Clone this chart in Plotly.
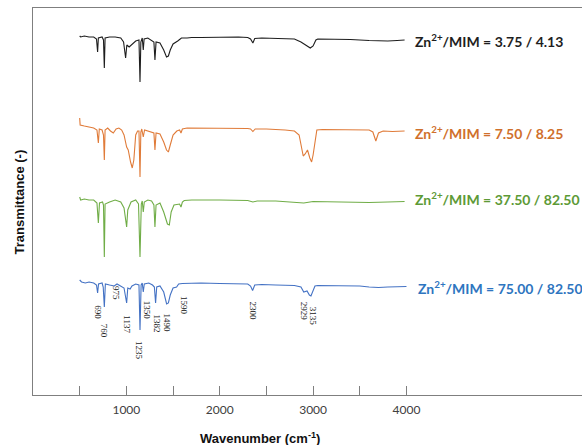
import plotly.graph_objects as go

# ---------------- data ----------------
w_black = [500, 510, 550, 600, 650, 680, 692, 700, 740, 755, 764, 772, 820, 880, 940, 970, 992, 1005, 1030, 1060,
           1100, 1135, 1146, 1155, 1170, 1181, 1190, 1230, 1270, 1295, 1306, 1318, 1360, 1400, 1430, 1450, 1470, 1500,
           1550, 1590, 1650, 1700, 1800, 2000, 2200, 2300, 2330, 2355, 2375, 2450, 2600, 2800, 2870, 2930, 2970, 3000,
           3030, 3050, 3200, 3400, 3600, 3700, 3800, 3900, 3980]
t_black = [101, 100, 101, 100, 100, 98, 85, 99, 100, 97, 69, 99, 100, 100, 99, 95, 79, 92, 90, 93,
           96, 97, 55, 95, 99, 87, 98, 99, 97, 95, 77, 95, 94, 87, 80, 81, 87, 93,
           96, 99, 99, 99.5, 99.5, 100, 100, 99.5, 98, 94, 98.5, 99, 98.5, 98, 95, 91, 89, 91,
           97, 98, 98, 97.5, 96.5, 96, 96, 96.5, 97]

w_orange = [500, 505, 550, 600, 650, 685, 700, 710, 740, 755, 764, 772, 800, 830, 860, 890, 920, 950, 975, 1003,
            1020, 1045, 1063, 1080, 1100, 1120, 1135, 1146, 1155, 1165, 1181, 1195, 1230, 1260, 1295, 1306, 1318,
            1360, 1400, 1430, 1450, 1470, 1500, 1540, 1570, 1585, 1600, 1650, 1800, 2000, 2200, 2300, 2330, 2355,
            2380, 2500, 2700, 2800, 2850, 2880, 2894, 2915, 2940, 2965, 2984, 3000, 3020, 3040, 3100, 3300, 3500,
            3600, 3640, 3672, 3700, 3750, 3850, 3980]
t_orange = [110, 103, 102, 101, 100, 98, 85, 99, 98, 93, 68, 98, 100, 97, 95, 99, 100, 98, 93, 81,
            78, 66, 60, 68, 93, 97, 97, 51, 96, 99, 91, 98, 97, 96, 95, 78, 95,
            94, 86, 78, 76, 83, 93, 97, 98, 95, 99, 100, 100, 100, 100, 99.5, 99, 96.5,
            99, 99, 98, 97, 93, 78, 72, 74, 78, 70, 66, 73, 88, 98, 98.5, 98, 98,
            98, 96, 87, 95, 97, 96.5, 97]

w_green = [500, 510, 550, 600, 650, 685, 700, 712, 745, 755, 764, 772, 820, 880, 940, 975, 1003, 1015, 1050, 1100,
           1130, 1146, 1160, 1170, 1181, 1192, 1230, 1270, 1295, 1306, 1318, 1360, 1400, 1440, 1460, 1480, 1510,
           1550, 1570, 1585, 1600, 1620, 1700, 2000, 2300, 2355, 2400, 2600, 2800, 2900, 3000, 3200, 3400, 3600,
           3800, 3980]
t_green = [103, 100, 101, 100, 100, 97, 77, 97, 98, 95, 43, 96, 98, 100, 98, 92, 73, 90, 98, 100,
           96, 43, 96, 99, 88, 98, 100, 99, 95, 73, 95, 97, 88, 76, 75, 88, 95,
           96, 96, 93, 98, 99.5, 100, 100, 99.5, 98, 99, 99, 97.5, 97, 98.5, 98, 98, 97.5,
           98, 98.5]

w_blue = [500, 520, 560, 600, 650, 680, 692, 702, 740, 752, 764, 775, 820, 870, 900, 940, 975, 1003, 1015, 1040,
          1060, 1100, 1135, 1146, 1158, 1170, 1181, 1192, 1240, 1280, 1300, 1313, 1325, 1360, 1400, 1431, 1450,
          1470, 1500, 1538, 1560, 1600, 1700, 1800, 2000, 2200, 2300, 2330, 2352, 2375, 2450, 2600, 2800, 2870,
          2900, 2935, 2960, 2977, 2995, 3020, 3050, 3300, 3500, 3600, 3700, 3800, 3900, 4000]
t_blue = [103, 101, 100, 101, 100, 98, 90, 99, 100, 96, 76, 99, 98, 97, 99, 97, 95, 80, 95, 94,
          97, 99, 98, 53, 98, 100, 91, 99, 100, 98, 96, 80, 96, 97, 91, 79, 80,
          88, 95, 96, 99, 99.5, 100, 100, 99.5, 99.5, 99, 97, 92.5, 98, 98.5, 98, 97.5, 96,
          91, 92, 88, 87, 91, 97, 97.5, 97.5, 97, 96, 95.5, 96, 96, 96.5]

series_names = ["Zn<sup>2+</sup>/MIM = 3.75 / 4.13", "Zn<sup>2+</sup>/MIM = 7.50 / 8.25",
                "Zn<sup>2+</sup>/MIM = 37.50 / 82.50", "Zn<sup>2+</sup>/MIM = 75.00 / 82.50"]
series_offsets = [258, 167, 95, 12]

peak_labels = ["690", "760", "975", "1137", "1235", "1350", "1382", "1490", "1590", "2300", "2929", "3135"]
peak_label_x = [693, 763, 889, 1003, 1135, 1224, 1324, 1431, 1617, 2352, 2905, 3001]
peak_label_y = [83, 64, 102, 71, 44, 85, 72, 72, 89, 84, 84, 79]

x_tickvals = [500, 1000, 1500, 2000, 2500, 3000, 3500, 4000]
x_ticktext = ["", "1000", "", "2000", "", "3000", "", "4000"]

# ---------------- styles ----------------
line_colors = ["#1e1e1e", "#e07b39", "#70ad47", "#4472c4"]
text_colors = ["#1e1e1e", "#d0702c", "#5d9a36", "#2e75c0"]
name_x = [4069, 4069, 4069, 4100]
name_y = [355, 263, 197, 108]

fig = go.Figure()
data = [(w_black, t_black), (w_orange, t_orange), (w_green, t_green), (w_blue, t_blue)]
for i, (w, t) in enumerate(data):
    fig.add_trace(go.Scatter(x=w, y=[v + series_offsets[i] for v in t], mode="lines",
                             line=dict(color=line_colors[i], width=1.1), showlegend=False,
                             hoverinfo="skip"))
    fig.add_annotation(x=name_x[i], y=name_y[i], xref="x", yref="y", text="<b>" + series_names[i] + "</b>",
                       showarrow=False, xanchor="left", yanchor="middle",
                       font=dict(family="Lato", size=14, color=text_colors[i]))

for lab, lx, ly in zip(peak_labels, peak_label_x, peak_label_y):
    fig.add_annotation(x=lx, y=ly, xref="x", yref="y", text=lab, showarrow=False, textangle=90,
                       xanchor="center", yanchor="middle",
                       font=dict(family="Liberation Serif", size=9, color="#222222"))

fig.add_annotation(x=0.413, y=-0.111, xref="paper", yref="paper",
                   text="<b>Wavenumber (cm<sup>-1</sup>)</b>", showarrow=False,
                   xanchor="center", yanchor="middle",
                   font=dict(family="Liberation Sans", size=13, color="#111111"))
fig.add_annotation(x=-0.0237, y=0.5, xref="paper", yref="paper",
                   text="<b>Transmittance (-)</b>", showarrow=False, textangle=-90,
                   xanchor="center", yanchor="middle",
                   font=dict(family="Liberation Sans", size=13, color="#111111"))

fig.update_xaxes(range=[0, 5880], tickmode="array", tickvals=x_tickvals, ticktext=x_ticktext,
                 ticks="inside", ticklen=9, tickcolor="#7f7f7f", tickwidth=1,
                 showline=True, linecolor="#7f7f7f", linewidth=1, mirror=True,
                 showgrid=False, zeroline=False, ticklabelstandoff=4,
                 tickfont=dict(family="Lato", size=12, color="#404040"))
fig.update_yaxes(range=[0, 387], showticklabels=False, ticks="", showline=True,
                 linecolor="#7f7f7f", linewidth=1, showgrid=False, zeroline=False)

fig.update_layout(width=582, height=445, margin=dict(l=33, r=0, t=8, b=50),
                  plot_bgcolor="white", paper_bgcolor="white")

fig.write_html("out.html")
